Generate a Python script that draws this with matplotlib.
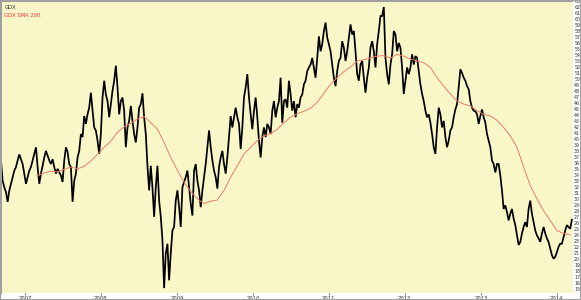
import pandas as pd
import matplotlib
matplotlib.use('Agg')
import matplotlib.pyplot as plt
from matplotlib.patches import Rectangle

# GDX sampled every 8 days from the picture, starting 2006-09-08
start = '2006-09-08'
gdx = [
    36.4, 33.0, 31.9, 31.1, 29.5, 31.4, 32.5, 33.6, 34.7, 35.3,
    36.4, 37.4, 36.6, 35.8, 34.2, 32.5, 33.6, 34.7, 35.3, 36.4,
    37.5, 38.6, 35.3, 32.5, 34.2, 35.5, 36.9, 38.0, 37.2, 36.4,
    35.8, 36.6, 35.3, 34.2, 35.0, 34.4, 33.9, 32.8, 36.4, 38.6,
    37.8, 35.8, 35.3, 29.5, 33.0, 34.2, 36.9, 38.0, 40.8, 40.3,
    43.8, 42.5, 44.1, 45.2, 47.7, 44.7, 41.9, 41.4, 39.7, 37.5,
    40.8, 46.9, 49.7, 47.4, 46.3, 43.6, 45.8, 48.0, 49.7, 52.2,
    48.6, 44.1, 46.3, 46.9, 44.7, 38.6, 41.9, 43.0, 45.5, 43.0,
    40.8, 39.4, 41.9, 45.2, 45.8, 47.6, 43.6, 40.8, 35.5, 31.4,
    35.5, 31.9, 27.0, 31.9, 35.5, 29.7, 27.0, 23.1, 15.1, 20.9,
    22.5, 16.4, 20.9, 24.7, 25.3, 29.7, 31.4, 28.6, 25.3, 31.9,
    32.8, 33.6, 34.7, 31.9, 29.2, 27.2, 34.7, 35.8, 33.0, 31.4,
    28.6, 31.4, 33.6, 35.8, 38.6, 41.4, 38.6, 36.4, 34.7, 33.6,
    31.7, 35.3, 36.9, 38.0, 35.8, 34.2, 36.9, 40.3, 43.8, 41.9,
    43.6, 45.2, 43.6, 42.5, 38.3, 41.9, 46.9, 48.6, 50.8, 46.9,
    44.1, 41.6, 44.7, 46.9, 43.6, 39.7, 36.9, 40.3, 41.9, 40.3,
    42.5, 41.9, 40.8, 44.7, 46.3, 43.6, 45.2, 46.3, 50.2, 42.7,
    46.3, 46.6, 45.2, 49.7, 47.4, 44.7, 46.3, 43.6, 45.8, 45.2,
    46.9, 47.4, 49.1, 49.7, 51.3, 51.9, 52.4, 53.5, 51.9, 50.2,
    53.5, 57.1, 54.6, 55.8, 58.0, 59.4, 56.9, 55.8, 54.6, 52.4,
    50.2, 48.8, 51.3, 53.0, 53.5, 56.3, 55.2, 53.0, 54.6, 56.9,
    59.1, 57.4, 58.0, 54.6, 50.8, 49.7, 52.4, 53.0, 50.2, 47.7,
    50.2, 51.9, 55.2, 56.3, 54.6, 51.9, 55.8, 58.0, 60.5, 60.5,
    62.0, 53.5, 50.8, 49.1, 52.4, 54.1, 58.0, 57.4, 54.6, 56.0,
    55.2, 51.9, 47.5, 49.7, 51.9, 50.8, 51.9, 54.1, 52.4, 53.8,
    53.5, 51.3, 49.1, 47.5, 46.3, 44.7, 43.6, 44.1, 42.7, 40.8,
    38.6, 37.5, 41.9, 45.2, 44.1, 41.9, 43.0, 40.3, 38.6, 39.7,
    41.4, 41.9, 43.6, 44.9, 45.8, 48.6, 51.6, 51.0, 50.2, 49.7,
    48.8, 48.3, 46.3, 45.2, 44.7, 44.6, 44.1, 42.5, 43.8, 44.9,
    43.6, 42.7, 40.8, 39.7, 38.6, 36.4, 35.8, 34.4, 35.8, 35.8,
    33.9, 31.4, 28.3, 28.9, 27.8, 26.4, 27.5, 28.3, 26.7, 25.6,
    23.9, 22.3, 22.8, 24.2, 25.3, 26.1, 25.3, 28.3, 29.7, 27.5,
    26.1, 24.7, 23.9, 23.4, 22.8, 24.2, 25.3, 24.2, 23.4, 22.8,
    21.7, 20.6, 20.0, 20.3, 21.1, 22.0, 22.5, 22.5, 23.6, 24.7,
    25.6, 25.3, 25.0, 26.5,
]

# 200-day SMA, read every 32 days starting 2007-03-03
sma_200 = [
    33.9, 34.3, 34.6, 34.5, 34.9, 35.3, 35.0, 35.4, 36.3, 37.4,
    38.6, 39.6, 41.1, 42.0, 42.6, 43.3, 43.7, 42.7, 41.6, 39.4,
    36.9, 34.7, 32.8, 31.2, 30.0, 29.2, 29.6, 29.8, 31.4, 33.6,
    35.5, 37.5, 38.6, 39.7, 40.5, 40.9, 41.6, 42.7, 43.6, 44.2,
    44.6, 45.1, 46.1, 47.6, 49.1, 50.2, 51.2, 52.0, 53.0, 53.2,
    53.5, 53.8, 53.9, 53.5, 54.1, 53.8, 53.3, 53.0, 52.7, 51.9,
    50.2, 48.8, 47.5, 46.3, 45.8, 45.5, 44.7, 44.1, 43.8, 43.1,
    41.9, 40.5, 38.6, 35.3, 32.2, 30.0, 28.0, 26.4, 24.7, 24.2,
    24.0,
]

years = [2007, 2008, 2009, 2010, 2011, 2012, 2013, 2014]
price_ticks = list(range(15, 64))

dates = pd.date_range(start, periods=len(gdx), freq='8D')
sma_dates = pd.date_range('2007-03-03', periods=len(sma_200), freq='32D')

fig = plt.figure(figsize=(5.81, 3.0), dpi=100, facecolor='white')
ax = fig.add_axes([1 / 581, 7 / 300, 571.5 / 581, 292 / 300])
ax.set_facecolor('#f9f7c8')

ax.plot(dates, gdx, color='black', lw=1.25, solid_joinstyle='miter')
ax.plot(sma_dates, sma_200, color='#ee7d6a', lw=0.7)

ax.set_xlim(pd.Timestamp('2006-09-08'), pd.Timestamp('2014-03-17'))
ax.set_ylim(14.28, 62.78)

ax.yaxis.tick_right()
ax.set_yticks(price_ticks)
ax.set_yticklabels([str(t) for t in price_ticks])
ax.tick_params(axis='y', length=0, pad=1.2, labelsize=3.4, colors='#333333')

ax.set_xticks([pd.Timestamp(f'{y}-01-01') for y in years])
ax.set_xticklabels([str(y) for y in years])
ax.tick_params(axis='x', length=1.2, width=0.5, pad=0.6, labelsize=3.8,
               colors='#333333')

for side in ['right', 'bottom']:
    ax.spines[side].set_visible(False)
for side in ['left', 'top']:
    ax.spines[side].set_color('#a0a0a0')
    ax.spines[side].set_linewidth(1.5)

ax.text(0.006, 0.985, 'GDX', transform=ax.transAxes, fontsize=3.8,
        color='#333333', va='top', ha='left')
ax.text(0.006, 0.96, 'GDX SMA 200', transform=ax.transAxes, fontsize=3.8,
        color='#ff3030', va='top', ha='left')

fig.patches.append(Rectangle((0, 0), 1, 1, transform=fig.transFigure,
                             fill=False, ec='#a0a0a0', lw=1.5))

fig.savefig('out.png', dpi=100)
